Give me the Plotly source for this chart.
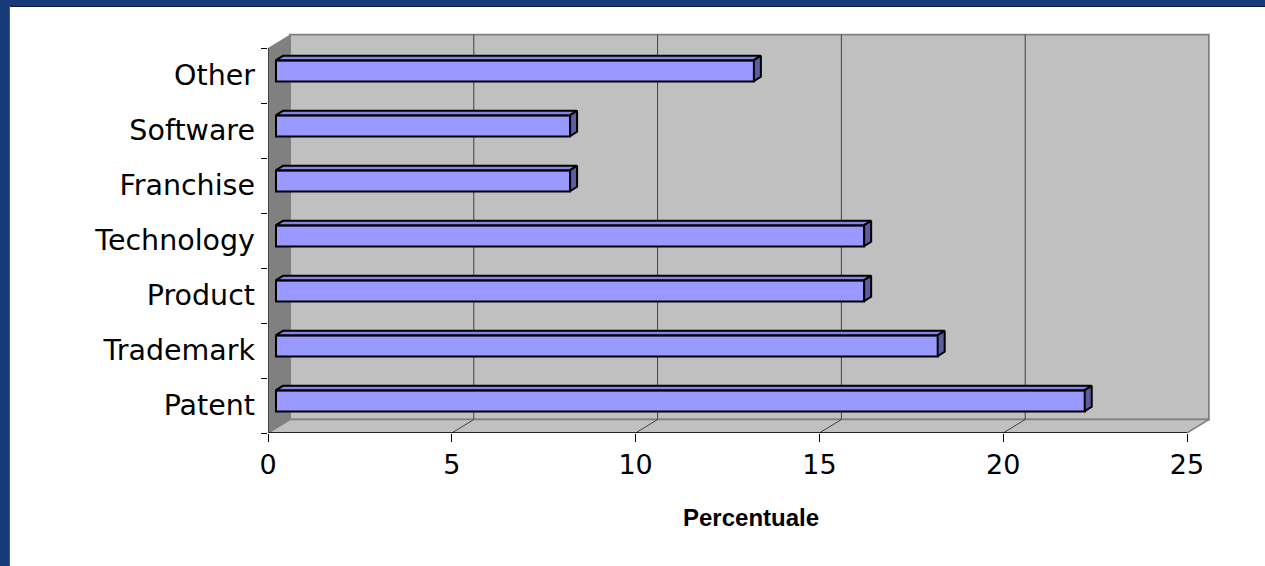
import plotly.graph_objects as go

# Share of licensing agreements by type (%)
categories = ["Patent", "Trademark", "Product", "Technology", "Franchise", "Software", "Other"]
values = [22, 18, 16, 16, 8, 8, 13]
x_ticks = [0, 5, 10, 15, 20, 25]
x_title = "Percentuale"

# ---- canvas and pseudo-3D geometry ----
W, H = 1265, 566
PX_X0 = 268            # pixel column of x = 0 on the front edge
PX_PER_X = 36.76       # pixels per percentage point
PY_FRONT = 433         # pixel row of the front floor edge
PX_PER_CAT = 55        # pixels per category slot
DEPTH_PX_X, DEPTH_PX_Y = 22, 13.5   # full depth offset of the back wall

KX = DEPTH_PX_X / PX_PER_X          # depth offset in x units
KY = DEPTH_PX_Y / PX_PER_CAT        # depth offset in category units
ZF, ZB = 8 / 22, 15 / 22            # bar front / back depth
BAR_H = 0.38                        # bar thickness in category units
X_MAX = max(x_ticks)
N = len(categories)
C_LO, C_HI = -0.5, N - 0.5

X_RANGE = [0, X_MAX + KX + 0.02]
Y_RANGE = [C_LO, C_HI + KY + 0.02]

BLUE = "#173b78"
FRONT = "#9999ff"
TOP = "#8585e6"
SIDE = "#5c5ca3"
WALL = "#c0c0c0"
SIDE_WALL = "#808080"
GRID = "#404040"
FONT = "DejaVu Sans"


def proj(x, c, z):
    """Project a point at depth z (0 = front, 1 = back wall) onto the axes."""
    return x + z * KX, c + z * KY


def path(points):
    return "M " + " L ".join(f"{px},{py}" for px, py in points) + " Z"


fig = go.Figure()

# Front faces of the bars
fig.add_trace(go.Bar(
    orientation="h",
    x=values,
    y=[i + ZF * KY for i in range(N)],
    base=ZF * KX,
    width=BAR_H,
    marker=dict(color=FRONT, line=dict(color="black", width=2)),
    hoverinfo="skip",
    showlegend=False,
))

# Top and right faces of each bar
for i, v in enumerate(values):
    yt = i + BAR_H / 2
    yb = i - BAR_H / 2
    top = [proj(0, yt, ZF), proj(v, yt, ZF), proj(v, yt, ZB), proj(0, yt, ZB), proj(0, yt, ZF)]
    side = [proj(v, yb, ZF), proj(v, yt, ZF), proj(v, yt, ZB), proj(v, yb, ZB), proj(v, yb, ZF)]
    for pts, col in ((top, TOP), (side, SIDE)):
        fig.add_trace(go.Scatter(
            x=[p[0] for p in pts], y=[p[1] for p in pts],
            mode="lines", fill="toself", fillcolor=col,
            line=dict(color="black", width=2),
            hoverinfo="skip", showlegend=False,
        ))

shapes = []
# Back wall
bw0 = proj(0, C_LO, 1)
bw1 = proj(X_MAX, C_HI, 1)
shapes.append(dict(type="rect", xref="x", yref="y", x0=bw0[0], y0=bw0[1], x1=bw1[0], y1=bw1[1],
                   fillcolor=WALL, line=dict(color=SIDE_WALL, width=2), layer="below"))
# Left side wall
shapes.append(dict(type="path", xref="x", yref="y", layer="below",
                   path=path([(0, C_LO), (0, C_HI), proj(0, C_HI, 1), proj(0, C_LO, 1)]),
                   fillcolor=SIDE_WALL, line=dict(width=0)))
# Floor
shapes.append(dict(type="path", xref="x", yref="y", layer="below",
                   path=path([(0, C_LO), (X_MAX, C_LO), proj(X_MAX, C_LO, 1), proj(0, C_LO, 1)]),
                   fillcolor=WALL, line=dict(color=SIDE_WALL, width=1.5)))
# Gridlines on the back wall and across the floor
for t in x_ticks[1:-1]:
    b = proj(t, C_LO, 1)
    tp = proj(t, C_HI, 1)
    shapes.append(dict(type="line", xref="x", yref="y", layer="below",
                       x0=b[0], y0=b[1], x1=tp[0], y1=tp[1], line=dict(color=GRID, width=1)))
    shapes.append(dict(type="line", xref="x", yref="y", layer="below",
                       x0=t, y0=C_LO, x1=b[0], y1=b[1], line=dict(color=GRID, width=1)))
# Front edges (axis lines)
shapes.append(dict(type="line", xref="x", yref="y", x0=0, y0=C_LO, x1=X_MAX, y1=C_LO,
                   line=dict(color="black", width=1.5)))
shapes.append(dict(type="line", xref="x", yref="y", x0=0, y0=C_LO, x1=0, y1=C_HI,
                   line=dict(color="#303030", width=1.5)))
# Slide frame
shapes.append(dict(type="rect", xref="paper", yref="paper", x0=0, x1=9 / W, y0=0, y1=1,
                   fillcolor=BLUE, line=dict(width=0)))
shapes.append(dict(type="rect", xref="paper", yref="paper", x0=0, x1=1, y0=1 - 6 / H, y1=1,
                   fillcolor=BLUE, line=dict(width=0)))
shapes.append(dict(type="line", xref="paper", yref="paper", x0=9.5 / W, x1=1, y0=1 - 6.5 / H, y1=1 - 6.5 / H,
                   line=dict(color="#101830", width=1)))
shapes.append(dict(type="line", xref="paper", yref="paper", x0=9.5 / W, x1=9.5 / W, y0=0, y1=1 - 6.5 / H,
                   line=dict(color="#505560", width=1)))

x_dom = [PX_X0 / W, (PX_X0 + X_RANGE[1] * PX_PER_X) / W]
y_top_px = PY_FRONT - (Y_RANGE[1] - Y_RANGE[0]) * PX_PER_CAT
y_dom = [1 - PY_FRONT / H, 1 - y_top_px / H]

fig.update_layout(
    width=W, height=H,
    margin=dict(l=0, r=0, t=0, b=0, autoexpand=False),
    paper_bgcolor="white", plot_bgcolor="rgba(0,0,0,0)",
    shapes=shapes,
    bargap=0,
    xaxis=dict(
        domain=x_dom, range=X_RANGE, showgrid=False, zeroline=False, showline=False,
        automargin=False,
        tickvals=x_ticks, ticktext=[str(t) for t in x_ticks],
        ticks="outside", ticklen=8, tickwidth=1, tickcolor="black",
        tickfont=dict(family=FONT, size=27, color="black"),
    ),
    yaxis=dict(
        domain=y_dom, range=Y_RANGE, showgrid=False, zeroline=False, showline=False,
        automargin=False,
        tickvals=list(range(N)), ticktext=categories, ticks="",
        ticklabelstandoff=12,
        tickfont=dict(family=FONT, size=28.5, color="black"),
        minor=dict(tickvals=[C_LO + k for k in range(N + 1)], ticks="outside",
                   ticklen=6, tickwidth=1, tickcolor="black", showgrid=False),
    ),
    annotations=[dict(
        text=f"<b>{x_title}</b>", xref="paper", yref="paper",
        x=751 / W, y=1 - 517 / H, xanchor="center", yanchor="middle", showarrow=False,
        font=dict(family="Liberation Sans", size=24, color="black"),
    )],
)

fig.write_html("out.html")
